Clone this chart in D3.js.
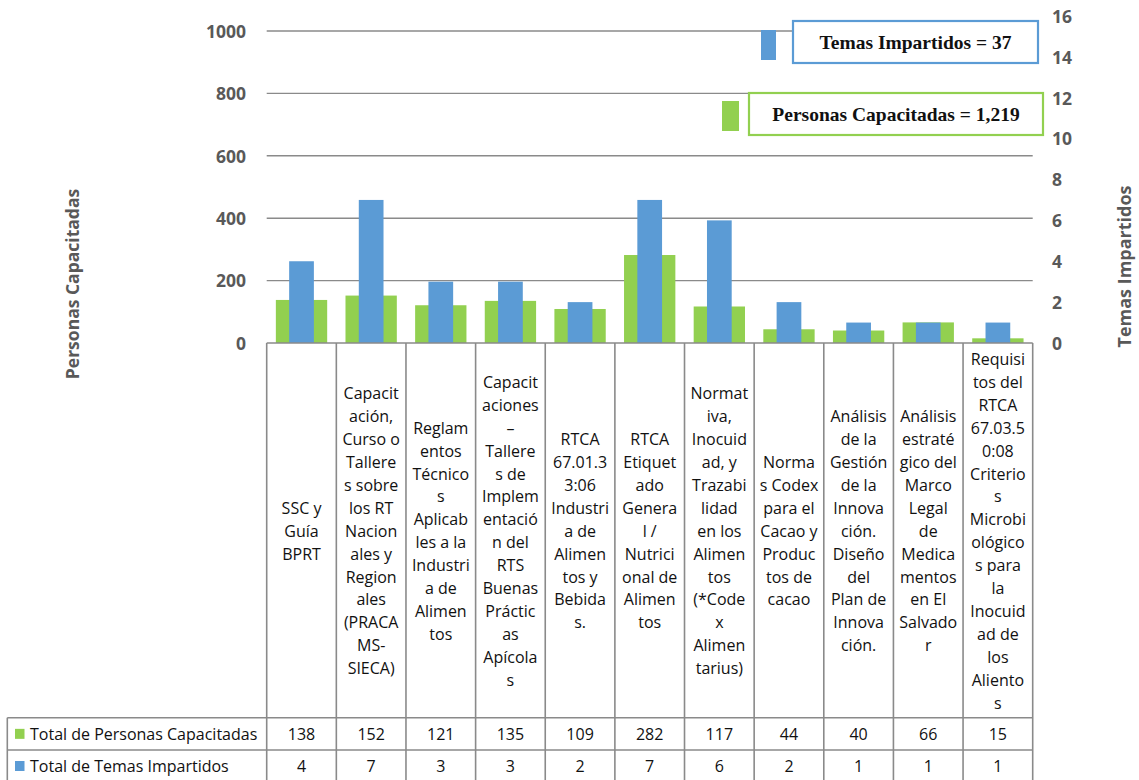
<!DOCTYPE html>
<html lang="es">
<head>
<meta charset="utf-8">
<title>Personas Capacitadas y Temas Impartidos</title>
<script src="https://cdn.jsdelivr.net/npm/d3@7/dist/d3.min.js"></script>
<style>
  html, body { margin: 0; padding: 0; background: #ffffff; }
  svg { display: block; }
</style>
</head>
<body>
<div id="chart"></div>
<script>
// Category labels, already broken into the lines shown in each table cell
const categories = [
  ["SSC y", "Guía", "BPRT"],
  ["Capacit", "ación,", "Curso o", "Tallere", "s sobre", "los RT", "Nacion", "ales y", "Region", "ales", "(PRACA", "MS-", "SIECA)"],
  ["Reglam", "entos", "Técnico", "s", "Aplicab", "les a la", "Industri", "a de", "Alimen", "tos"],
  ["Capacit", "aciones", "–", "Tallere", "s de", "Implem", "entació", "n del", "RTS", "Buenas", "Práctic", "as", "Apícola", "s"],
  ["RTCA", "67.01.3", "3:06", "Industri", "a de", "Alimen", "tos y", "Bebida", "s."],
  ["RTCA", "Etiquet", "ado", "Genera", "l /", "Nutrici", "onal de", "Alimen", "tos"],
  ["Normat", "iva,", "Inocuid", "ad, y", "Trazabi", "lidad", "en los", "Alimen", "tos", "(*Code", "x", "Alimen", "tarius)"],
  ["Norma", "s Codex", "para el", "Cacao y", "Produc", "tos de", "cacao"],
  ["Análisis", "de la", "Gestión", "de la", "Innova", "ción.", "Diseño", "del", "Plan de", "Innova", "ción."],
  ["Análisis", "estraté", "gico del", "Marco", "Legal", "de", "Medica", "mentos", "en El", "Salvado", "r"],
  ["Requisi", "tos del", "RTCA", "67.03.5", "0:08", "Criterio", "s", "Microbi", "ológico", "s para", "la", "Inocuid", "ad de", "los", "Aliento", "s"]
];

// Series values
const personasCapacitadas = [138, 152, 121, 135, 109, 282, 117, 44, 40, 66, 15];
const temasImpartidos     = [4, 7, 3, 3, 2, 7, 6, 2, 1, 1, 1];

// Axis ticks
const leftTicks  = [0, 200, 400, 600, 800, 1000];
const rightTicks = [0, 2, 4, 6, 8, 10, 12, 14, 16];

// Series names
const seriesPersonas = "Personas Capacitadas";
const seriesTemas = "Temas Impartidos";
const rowPersonas = "Total de Personas Capacitadas";
const rowTemas = "Total de Temas Impartidos";

const W = 1139, H = 780;
const GREEN = "#92D050", BLUE = "#5B9BD5";
const GRID = "#8a8a8a", AXIS_TXT = "#595959";
const SANS = "'Open Sans', 'Noto Sans', sans-serif";
const TABLE_FS = 16;

const plot = { left: 266.7, right: 1032.7, base: 343 };

const svg = d3.select("#chart").append("svg")
  .attr("width", W).attr("height", H)
  .attr("viewBox", `0 0 ${W} ${H}`);

svg.append("rect").attr("width", W).attr("height", H).attr("fill", "#fff");

const x = d3.scaleBand()
  .domain(d3.range(categories.length))
  .range([plot.left, plot.right])
  .padding(0);

const yLeft = d3.scaleLinear().domain([0, 1000]).range([plot.base, 31]);
const yRight = d3.scaleLinear().domain([0, 16]).range([plot.base, 16]);

// Horizontal gridlines on the left scale
svg.append("g").selectAll("line")
  .data(leftTicks.filter(d => d > 0))
  .join("line")
  .attr("x1", plot.left).attr("x2", plot.right)
  .attr("y1", d => yLeft(d)).attr("y2", d => yLeft(d))
  .attr("stroke", GRID).attr("stroke-width", 1.4);

// Left axis labels
const leftAxis = d3.axisLeft(yLeft).tickValues(leftTicks)
  .tickFormat(d3.format("d")).tickSize(0).tickPadding(0);
const gL = svg.append("g").attr("transform", "translate(246,0)").call(leftAxis);
gL.select(".domain").remove();
gL.selectAll("text")
  .attr("font-family", SANS).attr("font-weight", 700)
  .attr("font-size", 17.5).attr("fill", AXIS_TXT)
  .attr("dy", "0.36em");

// Right axis labels
const rightAxis = d3.axisRight(yRight).tickValues(rightTicks)
  .tickFormat(d3.format("d")).tickSize(0).tickPadding(0);
const gR = svg.append("g").attr("transform", "translate(1052,0)").call(rightAxis);
gR.select(".domain").remove();
gR.selectAll("text")
  .attr("font-family", SANS).attr("font-weight", 700)
  .attr("font-size", 17.5).attr("fill", AXIS_TXT)
  .attr("dy", "0.36em");

// Axis titles
svg.append("text")
  .attr("transform", "translate(73,284) rotate(-90)")
  .attr("text-anchor", "middle").attr("dy", "0.36em")
  .attr("font-family", SANS).attr("font-weight", 700)
  .attr("font-size", 17.5).attr("fill", AXIS_TXT)
  .text(seriesPersonas);

svg.append("text")
  .attr("transform", "translate(1125,266.5) rotate(-90)")
  .attr("text-anchor", "middle").attr("dy", "0.36em")
  .attr("font-family", SANS).attr("font-weight", 700)
  .attr("font-size", 18).attr("fill", AXIS_TXT)
  .text(seriesTemas);

// Bars: wide green (left scale) behind narrow blue (right scale)
const bw = x.bandwidth();
const gW = bw * 0.737, bW = bw * 0.355;

svg.append("g").selectAll("rect")
  .data(personasCapacitadas)
  .join("rect")
  .attr("x", (d, i) => x(i) + (bw - gW) / 2)
  .attr("width", gW)
  .attr("y", d => yLeft(d))
  .attr("height", d => plot.base - yLeft(d))
  .attr("fill", GREEN);

svg.append("g").selectAll("rect")
  .data(temasImpartidos)
  .join("rect")
  .attr("x", (d, i) => x(i) + (bw - bW) / 2)
  .attr("width", bW)
  .attr("y", d => yRight(d))
  .attr("height", d => plot.base - yRight(d))
  .attr("fill", BLUE);

// Data table under the plot
const tbl = { left: 7.3, row1: 717.7, row2: 750, bottom: 782 };
const tg = svg.append("g");
const lineStyle = s => s.attr("stroke", GRID).attr("stroke-width", 1.6).attr("fill", "none");

// Horizontal rules
tg.append("line").attr("x1", plot.left).attr("x2", plot.right)
  .attr("y1", plot.base).attr("y2", plot.base).call(lineStyle);
[tbl.row1, tbl.row2, tbl.bottom].forEach(yv => {
  tg.append("line").attr("x1", tbl.left).attr("x2", plot.right)
    .attr("y1", yv).attr("y2", yv).call(lineStyle);
});
// Vertical rules
tg.append("line").attr("x1", tbl.left).attr("x2", tbl.left)
  .attr("y1", tbl.row1).attr("y2", tbl.bottom).call(lineStyle);
d3.range(categories.length + 1).forEach(i => {
  const xv = i < categories.length ? x(i) : plot.right;
  tg.append("line").attr("x1", xv).attr("x2", xv)
    .attr("y1", plot.base).attr("y2", tbl.bottom).call(lineStyle);
});

// Category labels
const LINE_H = 22.9, CELL_MID = 531;
categories.forEach((lines, i) => {
  const t = tg.append("text")
    .attr("text-anchor", "middle")
    .attr("font-family", SANS).attr("font-size", TABLE_FS).attr("fill", "#111");
  lines.forEach((ln, k) => {
    t.append("tspan")
      .attr("x", x(i) + bw / 2)
      .attr("y", CELL_MID + (k - (lines.length - 1) / 2) * LINE_H)
      .attr("dy", "0.36em")
      .text(ln);
  });
});

// Row headers with series keys
const rows = [
  { name: rowPersonas, color: GREEN, values: personasCapacitadas, top: tbl.row1, bot: tbl.row2 },
  { name: rowTemas, color: BLUE, values: temasImpartidos, top: tbl.row2, bot: tbl.bottom }
];
rows.forEach(r => {
  const mid = (r.top + r.bot) / 2;
  tg.append("rect").attr("x", 15).attr("y", mid - 5).attr("width", 9.5).attr("height", 10)
    .attr("fill", r.color);
  tg.append("text").attr("x", 30).attr("y", mid).attr("dy", "0.36em")
    .attr("font-family", SANS).attr("font-size", TABLE_FS).attr("fill", "#111")
    .text(r.name);
  r.values.forEach((v, i) => {
    tg.append("text").attr("x", x(i) + bw / 2).attr("y", mid).attr("dy", "0.36em")
      .attr("text-anchor", "middle")
      .attr("font-family", SANS).attr("font-size", TABLE_FS).attr("fill", "#111")
      .text(v);
  });
});

// Total callouts
const fmt = d3.format(",");
const callouts = [
  { color: BLUE, text: `${seriesTemas} = ${fmt(d3.sum(temasImpartidos))}`,
    key: [761, 30, 15, 30], box: [793, 21, 245, 42] },
  { color: GREEN, text: `${seriesPersonas} = ${fmt(d3.sum(personasCapacitadas))}`,
    key: [722, 101, 17, 30], box: [749, 93, 294, 42] }
];
callouts.forEach(c => {
  svg.append("rect").attr("x", c.key[0]).attr("y", c.key[1])
    .attr("width", c.key[2]).attr("height", c.key[3]).attr("fill", c.color);
  svg.append("rect").attr("x", c.box[0]).attr("y", c.box[1])
    .attr("width", c.box[2]).attr("height", c.box[3])
    .attr("fill", "#fff").attr("stroke", c.color).attr("stroke-width", 2.2);
  svg.append("text")
    .attr("x", c.box[0] + c.box[2] / 2).attr("y", c.box[1] + c.box[3] / 2)
    .attr("dy", "0.34em").attr("text-anchor", "middle")
    .attr("font-family", "'Liberation Serif', 'DejaVu Serif', serif")
    .attr("font-weight", 700).attr("font-size", 19.5).attr("fill", "#111")
    .text(c.text);
});
</script>
</body>
</html>
